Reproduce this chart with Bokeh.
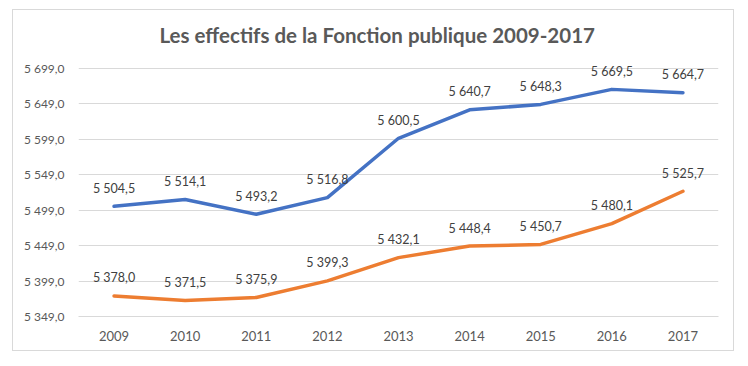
from bokeh.plotting import figure
from bokeh.models import FixedTicker, ColumnDataSource, Range1d, LabelSet
from bokeh.core.properties import value
from bokeh.embed import file_html
from bokeh.resources import INLINE

title = "Les effectifs de la Fonction publique 2009-2017"
years = ["2009", "2010", "2011", "2012", "2013", "2014", "2015", "2016", "2017"]
blue_vals = [5504.5, 5514.1, 5493.2, 5516.8, 5600.5, 5640.7, 5648.3, 5669.5, 5664.7]
orange_vals = [5378.0, 5371.5, 5375.9, 5399.3, 5432.1, 5448.4, 5450.7, 5480.1, 5525.7]
y_ticks = [5349.0, 5399.0, 5449.0, 5499.0, 5549.0, 5599.0, 5649.0, 5699.0]


def fr(v):
    s = f"{v:,.1f}"
    return s.replace(",", " ").replace(".", ",")


FONT = "Lato"
GREY = "#595959"

# top of range extended a little above the last grid line so data labels are not clipped
p = figure(width=722, height=342, x_range=years, y_range=Range1d(y_ticks[0], y_ticks[-1] + 31),
           output_backend="svg", toolbar_location=None,
           min_border_left=65, min_border_right=17, min_border_top=36, min_border_bottom=36)
p.styles = {"border": "1px solid #d9d9d9", "margin-left": "12px", "margin-top": "9px"}
p.outline_line_color = None

p.title.text = title
p.title.align = "left"
p.title.offset = 81
p.title.standoff = 0
p.title.text_font = FONT
p.title.text_font_size = "20.5px"
p.title.text_font_style = "bold"
p.title.text_color = GREY

p.yaxis.ticker = FixedTicker(ticks=y_ticks)
p.yaxis.major_label_overrides = {t: fr(t) for t in y_ticks}
p.yaxis.axis_line_color = None
p.yaxis.major_tick_line_color = None
p.yaxis.minor_tick_line_color = None
p.yaxis.major_label_standoff = 8
p.yaxis.major_label_text_font = FONT
p.yaxis.major_label_text_font_size = "12px"
p.yaxis.major_label_text_color = GREY

p.xaxis.axis_line_color = "#d9d9d9"
p.xaxis.major_tick_line_color = None
p.xaxis.minor_tick_line_color = None
p.xaxis.major_label_standoff = 8
p.xaxis.major_label_text_font = FONT
p.xaxis.major_label_text_font_size = "13px"
p.xaxis.major_label_text_color = GREY

p.xgrid.grid_line_color = None
p.ygrid.grid_line_color = "#d9d9d9"
p.ygrid.grid_line_width = 1

src = ColumnDataSource(dict(
    x=years, b=blue_vals, o=orange_vals,
    bl=[fr(v) for v in blue_vals], ol=[fr(v) for v in orange_vals],
))

p.line("x", "b", source=src, line_color="#4472C4", line_width=3.5, line_cap="round", line_join="round")
p.line("x", "o", source=src, line_color="#ED7D31", line_width=3.5, line_cap="round", line_join="round")

for col, lab in (("b", "bl"), ("o", "ol")):
    p.add_layout(LabelSet(x="x", y=col, text=lab, source=src, text_align="center",
                          text_baseline="middle", y_offset=18, text_font=value(FONT),
                          text_font_size="12.5px", text_color="#404040"))

open("out.html", "w").write(file_html(p, INLINE))
